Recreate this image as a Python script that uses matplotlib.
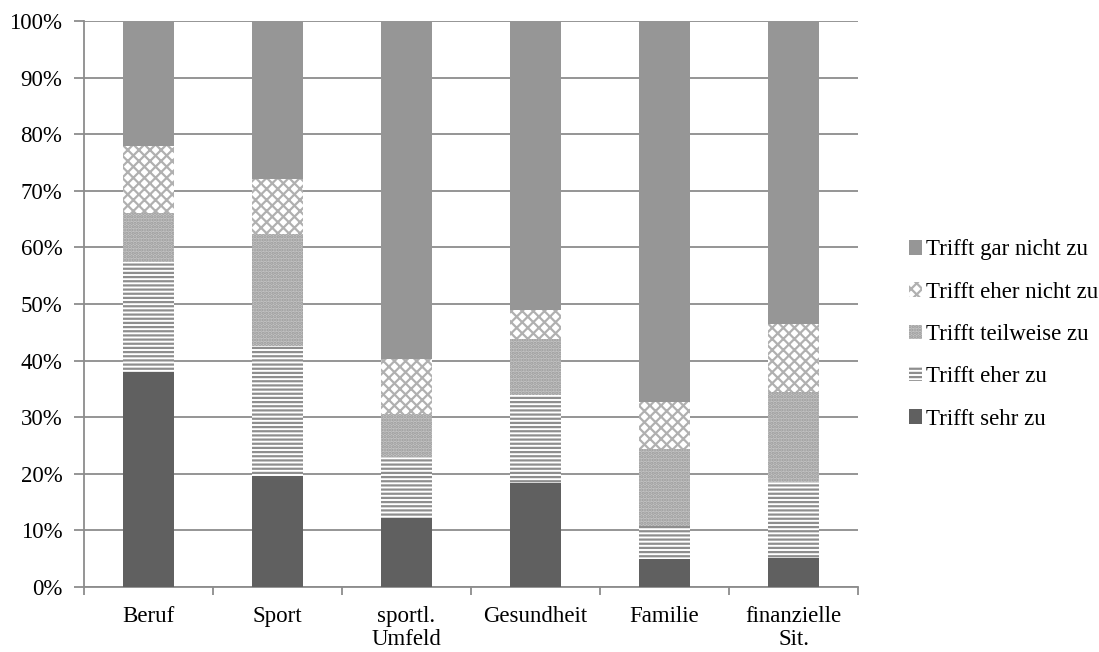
import numpy as np
import matplotlib.pyplot as plt
from matplotlib.patches import Patch

categories = ['Beruf', 'Sport', 'sportl.\nUmfeld', 'Gesundheit', 'Familie', 'finanzielle\nSit.']
series = ['Trifft sehr zu', 'Trifft eher zu', 'Trifft teilweise zu',
          'Trifft eher nicht zu', 'Trifft gar nicht zu']

# percentages per answer, stacked bottom to top
sehr_zu = [37.9, 19.6, 12.2, 18.3, 5.0, 5.1]
eher_zu = [19.6, 22.9, 10.8, 15.7, 5.8, 13.4]
teilweise_zu = [8.5, 19.9, 7.5, 9.9, 13.5, 15.9]
eher_nicht_zu = [12.0, 9.6, 9.8, 5.1, 8.3, 12.1]
gar_nicht_zu = [22.0, 28.0, 59.7, 51.0, 67.4, 53.5]

plt.rcParams['font.family'] = ['Liberation Serif', 'DejaVu Serif']
plt.rcParams['hatch.linewidth'] = 1.6

fig = plt.figure(figsize=(10.99, 6.52), dpi=100)
ax = fig.add_axes([84 / 1099, 1 - 587 / 652, (858 - 84) / 1099, (587 - 21) / 652])

x = np.arange(len(categories))
width = 0.40
styles = [
    dict(color='#606060', hatch=None, edgecolor='#606060'),
    dict(color='white', hatch='----', edgecolor='#8e8e8e'),
    dict(color='#c4c4c4', hatch='.....', edgecolor='#9a9a9a'),
    dict(color='white', hatch='xxx', edgecolor='#b0b0b0'),
    dict(color='#969696', hatch=None, edgecolor='#969696'),
]
values = [sehr_zu, eher_zu, teilweise_zu, eher_nicht_zu, gar_nicht_zu]

bottom = np.zeros(len(categories))
handles = []
for name, vals, st in zip(series, values, styles):
    ax.bar(x, vals, width, bottom=bottom, color=st['color'], hatch=st['hatch'],
           edgecolor=st['edgecolor'], linewidth=0, zorder=3)
    bottom += np.array(vals)
    handles.append(Patch(facecolor=st['color'], hatch=st['hatch'],
                         edgecolor=st['edgecolor'], linewidth=0, label=name))

fs = 16.5
ax.set_xlim(-0.5, len(categories) - 0.5)
ax.set_ylim(0, 100)
ax.set_yticks(np.arange(0, 101, 10))
ax.set_yticklabels([f'{v}%' for v in range(0, 101, 10)], fontsize=fs)
ax.set_xticks(x)
ax.set_xticklabels(categories, fontsize=fs, linespacing=1.1)
ax.set_xticks(np.arange(-0.5, len(categories)), minor=True)
ax.tick_params(axis='x', which='major', length=0, pad=14)
ax.tick_params(axis='x', which='minor', length=6, color='#8c8c8c', width=1.3)
ax.tick_params(axis='y', length=7, color='#8c8c8c', width=1.3, pad=8.5)

ax.grid(axis='y', color='#8c8c8c', linewidth=1.3, zorder=0)
for s in ['top', 'right']:
    ax.spines[s].set_visible(False)
for s in ['left', 'bottom']:
    ax.spines[s].set_color('#8c8c8c')
    ax.spines[s].set_linewidth(1.3)

fig.legend(handles=handles[::-1], loc='center left', bbox_to_anchor=(0.808, 0.487),
           frameon=False, fontsize=fs, handlelength=0.6, handleheight=0.6,
           handletextpad=0.17, labelspacing=0.93, borderpad=0.4)

fig.savefig('out.png', dpi=100)
